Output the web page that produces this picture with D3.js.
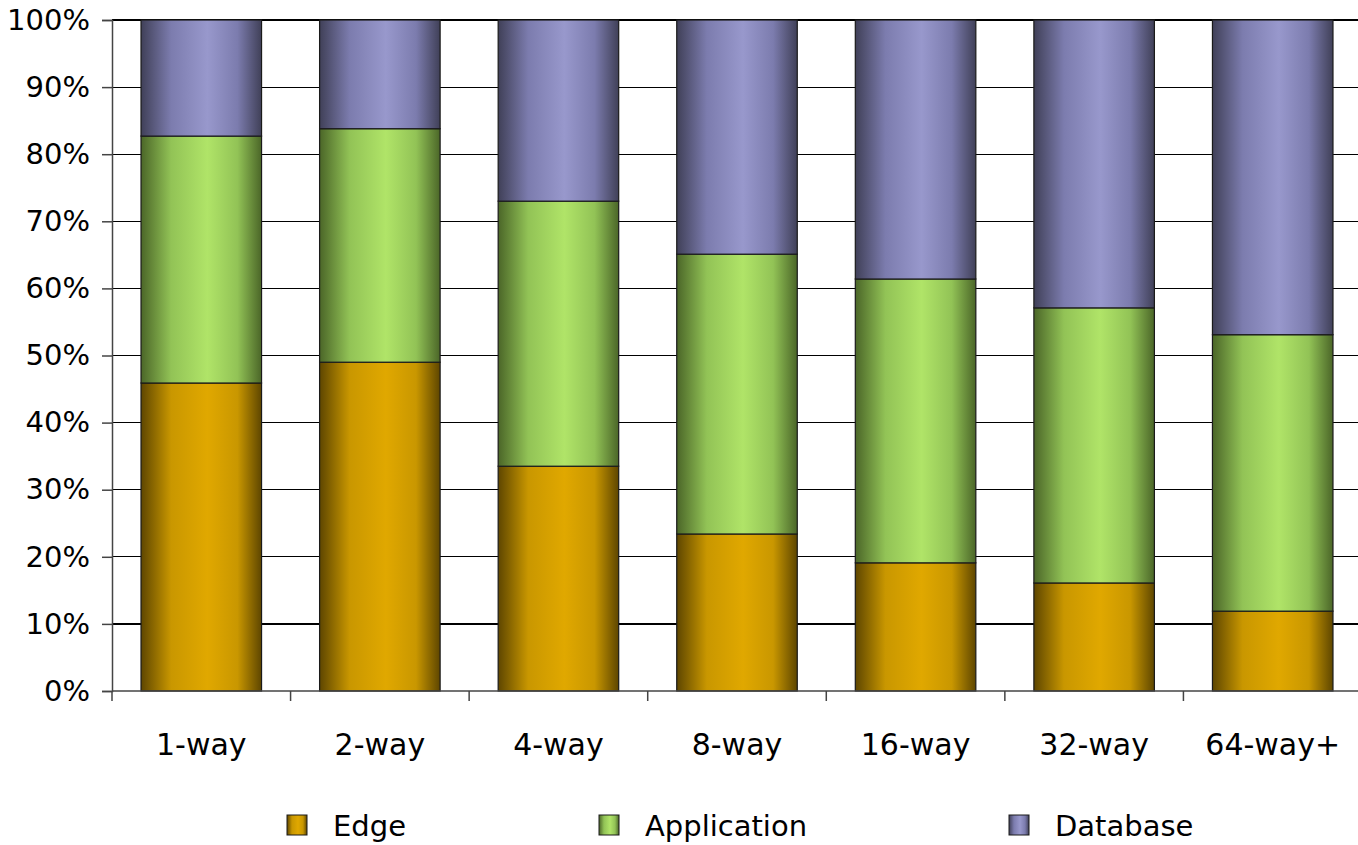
<!DOCTYPE html>
<html>
<head>
<meta charset="utf-8">
<script src="https://cdn.jsdelivr.net/npm/d3@7/dist/d3.min.js"></script>
<style>
  html, body { margin: 0; padding: 0; background: #fff; }
  svg { display: block; }
  text { font-family: "DejaVu Sans", Verdana, sans-serif; fill: #000; }
</style>
</head>
<body>
<svg id="chart" width="1358" height="845"></svg>
<script>
// Share of tiers by configuration size (percent of total)
const categories = ["1-way", "2-way", "4-way", "8-way", "16-way", "32-way", "64-way+"];
const seriesNames = ["Edge", "Application", "Database"];
const edge        = [45.9, 49.0, 33.5, 23.4, 19.1, 16.1, 11.9];
const application = [36.8, 34.8, 39.5, 41.7, 42.3, 41.0, 41.2];
const database    = [17.3, 16.2, 27.0, 34.9, 38.6, 42.9, 46.9];
const yTicks = [0, 10, 20, 30, 40, 50, 60, 70, 80, 90, 100];

const palette = {
  Edge:        { dark: "#5e4600", mid: "#c99700", light: "#e0a800" },
  Application: { dark: "#4b6628", mid: "#92c356", light: "#b0e468" },
  Database:    { dark: "#404058", mid: "#7c7cae", light: "#9898cc" }
};

const svg = d3.select("#chart");
const margin = { left: 112, top: 20, right: -4, bottom: 154 };
const W = 1358, H = 845;
const x0 = margin.left, x1 = W - margin.right;
const y0 = H - margin.bottom, y1 = margin.top;

const x = d3.scaleBand().domain(categories).range([x0, x1]).paddingInner(0.325).paddingOuter(0.1625);
const xTick = d3.scaleBand().domain(categories).range([x0, x1]);
const y = d3.scaleLinear().domain([0, 100]).range([y0, y1]);

// Horizontal cylinder-style gradients
const defs = svg.append("defs");
seriesNames.forEach((name, i) => {
  const c = palette[name];
  const g = defs.append("linearGradient").attr("id", "grad" + i)
    .attr("x1", "0%").attr("x2", "100%").attr("y1", "0%").attr("y2", "0%");
  [[0, c.dark], [0.25, c.mid], [0.55, c.light], [0.8, c.mid], [1, c.dark]].forEach(([o, col]) =>
    g.append("stop").attr("offset", o).attr("stop-color", col));
});

// Gridlines
svg.append("g").selectAll("line").data(yTicks.filter(t => t > 0)).join("line")
  .attr("x1", x0).attr("x2", x1)
  .attr("y1", d => y(d)).attr("y2", d => y(d))
  .attr("stroke", "#000").attr("stroke-width", 1.2).attr("shape-rendering", "crispEdges");

// Stacked bars
const rows = categories.map((c, i) => ({ cat: c, Edge: edge[i], Application: application[i], Database: database[i] }));
const stacked = d3.stack().keys(seriesNames)(rows);
svg.append("g").selectAll("g").data(stacked).join("g")
  .attr("fill", (d, i) => `url(#grad${i})`)
  .selectAll("rect").data(d => d).join("rect")
  .attr("x", d => x(d.data.cat))
  .attr("width", x.bandwidth())
  .attr("y", d => y(d[1]))
  .attr("height", d => y(d[0]) - y(d[1]))
  .attr("stroke", "#1a1a1a").attr("stroke-width", 1.2);

// Y axis
const yAxis = svg.append("g").attr("transform", `translate(${x0},0)`)
  .call(d3.axisLeft(y).tickValues(yTicks).tickFormat(d => d + "%").tickSize(10).tickPadding(12));
yAxis.select(".domain").attr("stroke", "#444").attr("stroke-width", 1.5);
yAxis.selectAll(".tick line").attr("stroke", "#444").attr("stroke-width", 1.5);
yAxis.selectAll("text").style("font-size", "29px").attr("font-family", null);

// X axis: baseline with category separator ticks
const xg = svg.append("g");
xg.append("line").attr("x1", x0).attr("x2", x1).attr("y1", y0).attr("y2", y0)
  .attr("stroke", "#444").attr("stroke-width", 1.5);
xg.selectAll("line.sep").data(categories).join("line").attr("class", "sep")
  .attr("x1", d => xTick(d)).attr("x2", d => xTick(d))
  .attr("y1", y0).attr("y2", y0 + 10)
  .attr("stroke", "#444").attr("stroke-width", 1.5);
xg.selectAll("text").data(categories).join("text")
  .attr("x", d => x(d) + x.bandwidth() / 2)
  .attr("y", y0 + 64)
  .attr("text-anchor", "middle")
  .style("font-size", "30px")
  .text(d => d);

// Legend
const legendX = [287, 599, 1009];
const legend = svg.append("g").selectAll("g").data(seriesNames).join("g")
  .attr("transform", (d, i) => `translate(${legendX[i]},815)`);
legend.append("rect").attr("width", 20).attr("height", 20)
  .attr("fill", (d, i) => `url(#grad${i})`).attr("stroke", "#1a1a1a").attr("stroke-width", 1);
legend.append("text").attr("x", 46).attr("y", 21).style("font-size", "29px").text(d => d);
</script>
</body>
</html>
